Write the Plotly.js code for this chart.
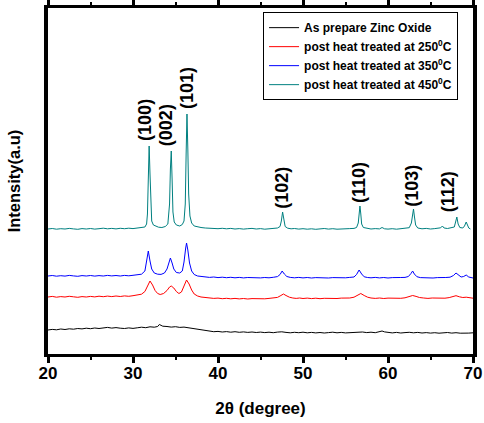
<!DOCTYPE html>
<html>
<head>
<meta charset="utf-8">
<script src="https://cdn.plot.ly/plotly-3.0.1.min.js"></script>
<style>html,body{margin:0;padding:0;background:#fff;}#chart{width:484px;height:423px;}</style>
</head>
<body>
<div id="chart"></div>
<script>
// As prepared Zinc Oxide
var blackX = [20,20.5,21,21.5,22,22.5,23,23.5,24,24.5,25,25.5,26,26.5,27,27.5,28,28.5,29,29.5,30,30.5,31,31.5,32,32.5,32.9,33.1,33.3,33.5,34,34.5,35,35.5,36,36.5,37,37.5,38,38.5,39,39.5,40,40.5,41,41.5,42,42.5,43,43.5,44,44.5,45,45.5,46,46.5,47,47.5,48,48.5,49,49.5,50,50.5,51,51.5,52,52.5,53,53.5,54,54.5,55,55.5,56,56.5,57,57.5,58,58.5,59,59.3,59.6,60,60.5,61,61.5,62,62.5,63,63.5,64,64.5,65,65.5,66,66.5,67,67.5,68,68.5,69,69.5,70];
var blackY = [24,24.6,24.2,25,24.5,25.2,24.8,25.5,25.1,25.8,25.3,26,25.5,26.2,26.6,25.9,26.4,25.8,25.5,26.1,25.6,26.2,26.8,26.3,27.2,26.8,27.5,29.5,29,27.8,27.5,26.9,27.3,26.6,26.9,26.2,25.5,24.6,23.8,23,22.7,22.3,22.6,22,22.4,21.8,22.3,21.7,22.1,21.6,22,21.5,21.9,21.4,21.8,21.3,21.9,22.2,21.6,21.2,21.7,21.3,21.8,21.2,21.6,21.1,21.5,21,21.4,21.8,21.2,21.6,21.1,21.5,21.2,21.7,22,21.4,21.8,21.3,22,23,22.1,21.5,21.1,21.6,21,21.4,21.7,21.2,21.6,21,21.4,20.9,21.3,20.8,21.2,21.5,20.9,21.3,20.8,21.2,20.9,21.2];

// post heat treated at 250 C
var redX = [20,20.5,21,21.5,22,22.5,23,23.5,24,24.5,25,25.5,26,26.5,27,27.5,28,28.5,29,29.5,30,30.5,31,31.4,31.7,32.0,32.3,32.6,32.9,33.2,33.6,34.0,34.3,34.5,34.8,35.1,35.4,35.7,36.0,36.3,36.6,36.9,37.2,37.6,38,38.5,39,39.5,40,40.5,41,41.5,42,42.5,43,43.5,44,44.5,45,45.5,46,46.5,47,47.4,47.7,48.0,48.4,48.8,49.2,49.6,50,50.5,51,51.5,52,52.5,53,53.5,54,54.5,55,55.5,56,56.4,56.8,57.2,57.6,58,58.5,59,59.5,60,60.5,61,61.5,62,62.5,62.9,63.3,63.7,64.2,64.7,65.2,65.7,66.2,66.7,67.2,67.7,68.0,68.4,68.8,69.2,69.6,70];
var redY = [57,57.6,56.8,57.4,57,57.7,57.2,56.7,57.4,57,57.6,57.1,57.8,57.3,57.9,57.4,58,57.5,58.1,57.7,58.3,58.8,59.8,62.5,68,73,69,63.5,60.5,59.5,60.5,63.5,67,68,66,62.5,60.5,62,68,74,70,64,60,58,57,56.3,56,55.6,55.9,55.3,55.7,55.2,55.6,55.1,55.5,55,55.4,55.1,55.5,55.2,55.6,55.8,56.6,58.5,60,58.5,56.8,56,55.6,56,55.5,55.9,55.4,55.8,55.3,55.7,55.4,55.8,55.5,55.9,55.6,56,56.8,58.5,60.5,58.5,56.8,56,55.6,56,55.5,55.9,55.6,56,55.7,56.2,57.2,58.5,57.6,56.5,56,55.6,56,55.7,56.1,55.8,56.4,57.6,58.3,57.2,56.5,56.8,56,55.8];

// post heat treated at 350 C
var blueX = [20,20.5,21,21.5,22,22.5,23,23.5,24,24.5,25,25.5,26,26.5,27,27.5,28,28.5,29,29.5,30,30.5,31,31.4,31.6,31.8,32.0,32.2,32.5,32.9,33.3,33.7,34.0,34.2,34.4,34.6,34.8,35.1,35.5,35.8,36.0,36.2,36.3,36.45,36.65,36.9,37.2,37.6,38,38.5,39,39.5,40,40.5,41,41.5,42,42.5,43,43.5,44,44.5,45,45.5,46,46.5,47,47.3,47.55,47.8,48.1,48.5,49,49.5,50,50.5,51,51.5,52,52.5,53,53.5,54,54.5,55,55.5,56,56.3,56.6,56.9,57.2,57.6,58,58.5,59,59.5,60,60.5,61,61.5,62,62.4,62.7,62.9,63.1,63.4,63.8,64.3,64.8,65.3,65.8,66.3,66.8,67.3,67.7,68.0,68.3,68.6,68.9,69.2,69.5,70];
var blueY = [78,78.5,77.8,78.3,77.9,78.6,78.1,77.7,78.4,78,78.5,77.9,78.4,78,78.6,78.1,78.5,78,78.6,78.2,78.7,79,79.8,83,92,103,93,85,81,79.8,79.6,81,85,91,96,91,85,81.5,81,83,92,106,111,104,91,83,79.5,78,77.4,77,76.6,77,76.4,76.8,76.3,76.7,76.2,76.6,76.1,76.5,76.2,76.6,76.1,76.5,76.2,76.7,77.4,79.5,83,80,77.5,76.6,76.2,76.6,76.1,76.5,76,76.4,76.1,76.5,76,76.4,76.1,76.5,76.2,76.6,77,79.5,84,80,77.2,76.5,76.2,76.6,76.1,76.5,76,76.4,76.1,76.5,76.6,77.5,80.5,83,80,77.3,76.4,76.1,76.5,76,76.4,76.1,76.5,76.8,78.5,81,79,77,77.5,79,77,76];

// post heat treated at 450 C
var tealX = [20,20.5,21,21.5,22,22.5,23,23.5,24,24.5,25,25.5,26,26.5,27,27.5,28,28.5,29,29.5,30,30.5,31,31.4,31.6,31.7,31.8,31.9,32.0,32.1,32.2,32.4,32.7,33.0,33.4,33.8,34.1,34.3,34.4,34.5,34.6,34.7,34.85,35.1,35.5,35.8,36.0,36.15,36.25,36.35,36.45,36.55,36.7,36.9,37.2,37.6,38,38.5,39,39.5,40,40.5,41,41.5,42,42.5,43,43.5,44,44.5,45,45.5,46,46.5,47,47.3,47.45,47.6,47.75,47.9,48.2,48.6,49,49.5,50,50.5,51,51.5,52,52.5,53,53.5,54,54.5,55,55.5,56,56.3,56.5,56.6,56.7,56.8,56.9,57.1,57.5,58,58.5,59,59.3,59.6,60,60.5,61,61.5,62,62.5,62.75,62.9,63.0,63.1,63.25,63.5,64,64.5,65,65.5,66,66.2,66.4,66.6,67,67.5,67.8,67.95,68.1,68.25,68.45,68.8,69.0,69.2,69.35,69.5,69.7];
var tealY = [125,125.5,124.8,125.3,125,125.6,125.1,124.7,125.4,125,125.5,124.9,125.3,125.8,125.2,125.6,125.1,125.7,125.3,125.8,125.4,125.9,126.2,127,130,140,175,208,180,145,133,129,127.5,126.8,126.5,127.5,130,150,185,203,175,142,132,129,128,129.5,133,150,200,240,205,160,138,131,128,127,126.5,126,125.6,125.9,125.3,125.7,125.2,125.6,125,125.4,124.9,125.3,125.6,125,125.4,124.8,125.2,125.5,126,127.5,133,142,133,127.5,125.8,125.2,125.5,124.9,125.3,124.8,125.2,124.7,125.1,125.5,124.9,125.3,124.8,125.2,124.9,125.4,125.6,126.5,131,142,148,140,130,126.5,125.5,125,125.4,125.1,126.5,125.2,124.9,125.3,124.8,125.2,125.5,126.3,131,141,145,138,129,126,125.2,125.6,125,125.4,125.7,126.2,128,126,125.5,126,127,132,137,130,126.5,126,128,132,128,126,125];

var seriesNames = ['As prepare Zinc Oxide','post heat treated at 250<sup>0</sup>C','post heat treated at 350<sup>0</sup>C','post heat treated at 450<sup>0</sup>C'];
var seriesColors = ['#000000','#ff0000','#0000ff','#008080'];

var peakLabels = ['(100)','(002)','(101)','(102)','(110)','(103)','(112)'];
var peakLabelX = [31.4,33.9,36.35,47.5,56.6,62.8,67.1];
var peakLabelY = [234,229,266,166,171,168,162];

var xs = [blackX, redX, blueX, tealX];
var ys = [blackY, redY, blueY, tealY];
var traces = xs.map(function(x, i){
  return {x: x, y: ys[i], type: 'scatter', mode: 'lines', name: seriesNames[i],
          line: {color: seriesColors[i], width: 1}};
});

var FONT = 'Arial, "Liberation Sans", sans-serif';
var annotations = peakLabels.map(function(t, i){
  return {x: peakLabelX[i], y: peakLabelY[i], xref: 'x', yref: 'y', text: '<b>' + t + '</b>', showarrow: false,
          textangle: -90, xanchor: 'center', yanchor: 'middle',
          font: {family: FONT, size: 18, color: '#000'}};
});

var layout = {
  width: 484, height: 423,
  margin: {l: 48, r: 11, t: 8, b: 69},
  paper_bgcolor: '#fff', plot_bgcolor: '#fff',
  showlegend: true,
  legend: {x: 0.506, y: 0.988, xanchor: 'left', yanchor: 'top',
           bgcolor: '#fff', bordercolor: '#000', borderwidth: 1,
           font: {family: FONT, size: 12, color: '#000', weight: 'bold'},
           tracegroupgap: 0},
  xaxis: {range: [20, 70], dtick: 10, tick0: 20, showgrid: false, zeroline: false,
          showline: true, linewidth: 3, linecolor: '#000', mirror: 'ticks',
          ticks: 'outside', ticklen: 6, tickwidth: 3, tickcolor: '#000',
          ticklabelstandoff: -4,
          minor: {dtick: 5, ticks: 'outside', ticklen: 3, tickwidth: 2, tickcolor: '#000', showgrid: false},
          tickfont: {family: FONT, size: 17, color: '#000', weight: 'bold'},
          title: {text: '2θ (degree)', standoff: 20, font: {family: FONT, size: 17, color: '#000', weight: 'bold'}}},
  yaxis: {range: [0, 346], showgrid: false, zeroline: false, showticklabels: false, ticks: '',
          showline: true, linewidth: 4, linecolor: '#000', mirror: true,
          title: {text: 'Intensity(a.u)', standoff: 20, font: {family: FONT, size: 16.5, color: '#000', weight: 'bold'}}},
  annotations: annotations
};

Plotly.newPlot('chart', traces, layout, {displayModeBar: false, staticPlot: true});
</script>
</body>
</html>
